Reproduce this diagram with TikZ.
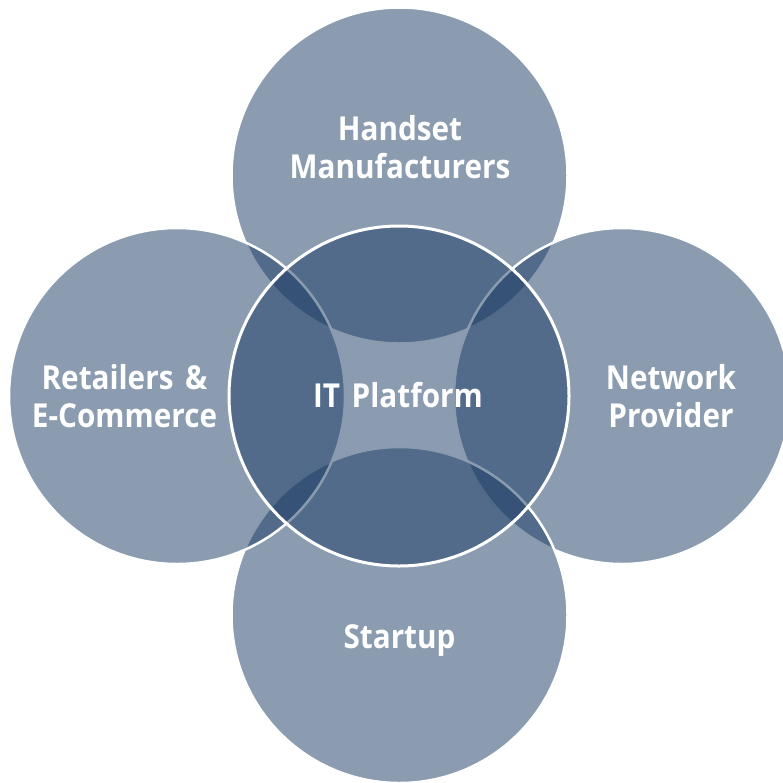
\documentclass[tikz,border=0pt]{standalone}
\usepackage{fontspec}
\newfontfamily\labelfont[FakeStretch=0.9,WordSpace=1.5]{Open Sans}
\definecolor{slate}{HTML}{1B3C65}
\begin{document}
\begin{tikzpicture}[x=1pt,y=-1pt,
  ring/.style={circle, inner sep=0pt, minimum size=336pt, draw=white,
    line width=2.5pt, fill=slate, fill opacity=0.51, draw opacity=1},
  hub/.style={ring, minimum size=340pt, line width=3pt},
  caption/.style={font=\labelfont\bfseries\fontsize{33}{38}\selectfont,
    text=white, align=center, anchor=base, inner sep=0pt}]
\useasboundingbox (0,0) rectangle (783,782);
\clip (0,0) rectangle (783,782);
% outer circles, drawn clockwise from the top
\node[ring] (handset) at (399.5,175.5) {};
\node[ring] (network) at (622,396) {};
\node[ring] (startup) at (399.5,615) {};
\node[ring] (retail)  at (177,396) {};
% central circle on top
\node[hub] (platform) at (399,396) {};
% captions (base anchor sits on the last line)
\node[caption] (lblHandset)  at (400,178.5) {Handset\\Manufacturers};
\node[caption] (lblRetail)   at (124.5,427.5) {Retailers \&\\E-Commerce};
\node[caption] (lblNetwork)  at (671,427.5) {Network\\Provider};
\node[caption] (lblPlatform) at (398,407.5) {IT Platform};
\node[caption] (lblStartup)  at (399.5,648.5) {Startup};
\end{tikzpicture}
\end{document}
